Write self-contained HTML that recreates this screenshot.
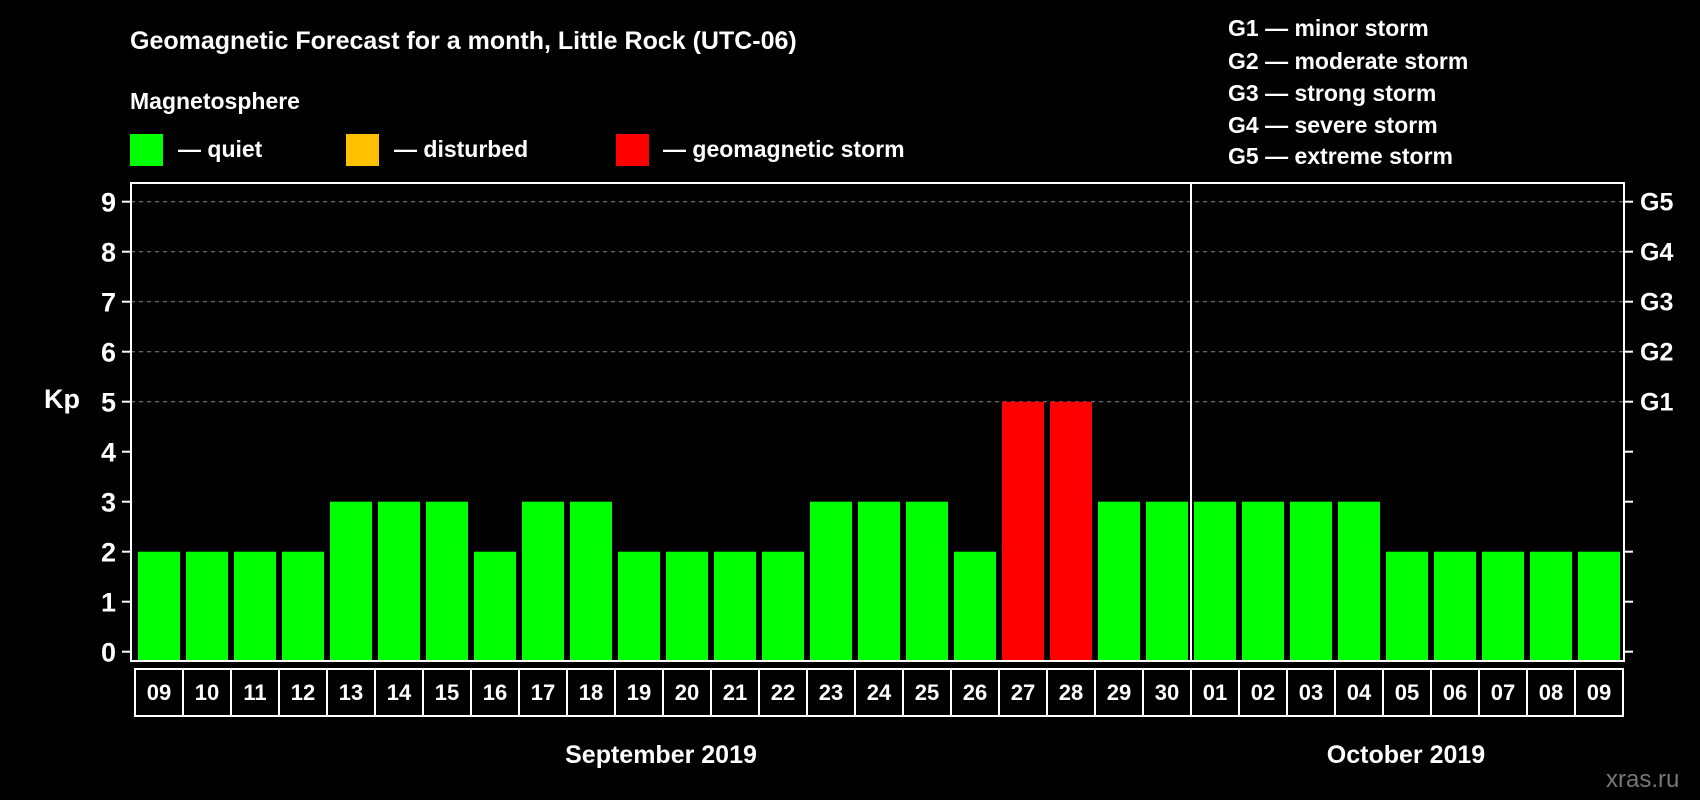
<!DOCTYPE html>
<html><head><meta charset="utf-8"><style>
html,body{margin:0;padding:0;background:#000;}
svg{display:block;font-family:"Liberation Sans",Arial,sans-serif;font-weight:bold;}
</style></head><body>
<svg id="chart" width="1700" height="800" viewBox="0 0 1700 800" xmlns="http://www.w3.org/2000/svg">
<rect width="1700" height="800" fill="#000"/>
<text x="130" y="49" fill="#fff" font-size="25">Geomagnetic Forecast for a month, Little Rock (UTC-06)</text>
<text x="130" y="109" fill="#fff" font-size="23">Magnetosphere</text>
<g><rect x="130" y="134" width="33" height="32" fill="#00ff00"/><text x="178" y="157" fill="#fff" font-size="23">— quiet</text></g>
<g><rect x="346" y="134" width="33" height="32" fill="#ffc000"/><text x="394" y="157" fill="#fff" font-size="23">— disturbed</text></g>
<g><rect x="616" y="134" width="33" height="32" fill="#ff0000"/><text x="663" y="157" fill="#fff" font-size="23">— geomagnetic storm</text></g>
<g fill="#fff" font-size="23">
<text x="1228" y="36">G1 — minor storm</text>
<text x="1228" y="69">G2 — moderate storm</text>
<text x="1228" y="101">G3 — strong storm</text>
<text x="1228" y="133">G4 — severe storm</text>
<text x="1228" y="164">G5 — extreme storm</text>
</g>
<text x="62" y="408" fill="#fff" font-size="27" text-anchor="middle">Kp</text>
<text x="1606" y="787" fill="#777" font-size="24" font-weight="normal">xras.ru</text>
<text x="661" y="763" fill="#fff" font-size="25" text-anchor="middle">September 2019</text>
<text x="1406" y="763" fill="#fff" font-size="25" text-anchor="middle">October 2019</text>
<g id="plot"></g>
</svg>
<script>
const days = ["09","10","11","12","13","14","15","16","17","18","19","20","21","22","23","24","25","26","27","28","29","30","01","02","03","04","05","06","07","08","09"];
const kp = [2,2,2,2,3,3,3,2,3,3,2,2,2,2,3,3,3,2,5,5,3,3,3,3,3,3,2,2,2,2,2];
const yTicks = [0,1,2,3,4,5,6,7,8,9];
const gLabels = ["G1","G2","G3","G4","G5"];
const gLevels = [5,6,7,8,9];
const monthSplit = 22;

const NS="http://www.w3.org/2000/svg";
const L=131,R=1624,T=183,B=661,X0=138,STEP=48,BW=42;
const y = v => 651.7 - v*50;
const x = i => X0 + i*STEP;
const color = v => v>=5 ? "#ff0000" : (v>=4 ? "#ffc000" : "#00ff00");
const plot=document.getElementById("plot");
function mk(tag,attrs,parent){const e=document.createElementNS(NS,tag);for(const k in attrs)e.setAttribute(k,attrs[k]);(parent||plot).appendChild(e);return e;}

gLevels.forEach(v=>{
  const g=mk("line",{x1:L,x2:R,y1:y(v),y2:y(v),stroke:"#888","stroke-width":1,"stroke-dasharray":"4,4"});
  
  
});
kp.forEach((v,i)=>{
  const r=mk("rect",{x:x(i),y:y(v),width:BW,height:B-y(v),fill:color(v)});
  
  
});
const frame=mk("rect",{x:L,y:T,width:R-L,height:B-T,fill:"none",stroke:"#fff","stroke-width":2});


const div=mk("line",{x1:x(monthSplit)-3,x2:x(monthSplit)-3,y1:T,y2:B,stroke:"#fff","stroke-width":2});


yTicks.forEach(v=>{
  const t=mk("line",{x1:L-9,x2:L,y1:y(v),y2:y(v),stroke:"#fff","stroke-width":2});
  
  
  const t2=mk("line",{x1:R,x2:R+9,y1:y(v),y2:y(v),stroke:"#fff","stroke-width":2});
  
  
  const l=mk("text",{x:116,y:y(v)+10,fill:"#fff","font-size":27,"text-anchor":"end"});
  l.textContent=v;
  
  
});
gLabels.forEach((g,i)=>{
  const l=mk("text",{x:1640,y:y(gLevels[i])+9,fill:"#fff","font-size":25});
  l.textContent=g;
  
  
});
days.forEach((d,i)=>{
  const c=mk("rect",{x:x(i)-3,y:669,width:STEP,height:47,fill:"none",stroke:"#fff","stroke-width":2});
  
  
  const l=mk("text",{x:x(i)+BW/2,y:700,fill:"#fff","font-size":22,"text-anchor":"middle"});
  l.textContent=d;
  
  
});
</script>
</body></html>
